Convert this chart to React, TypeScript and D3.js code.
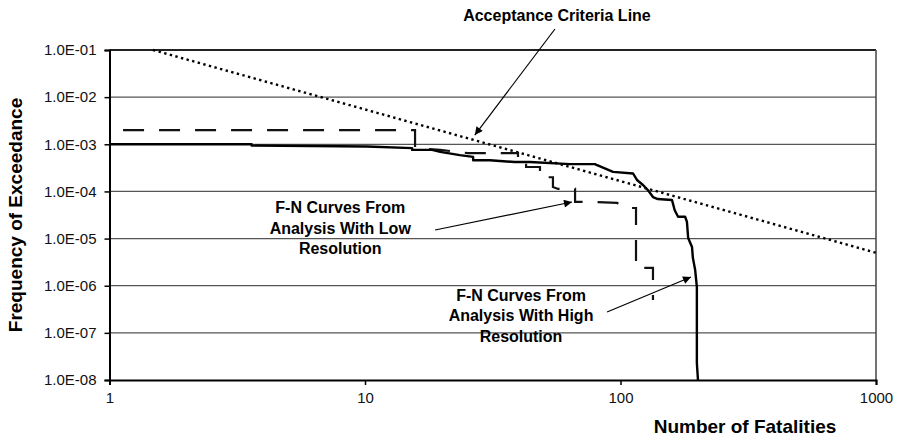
import React, { useEffect, useRef } from 'react';
import * as d3 from 'd3';

const W = 901, H = 436;
const X0 = 109.5, X1 = 876, Y0 = 380, Y1 = 50;
const FONT = '"Liberation Sans", Arial, Helvetica, sans-serif';

// tick values
const Y_TICKS = [1e-8, 1e-7, 1e-6, 1e-5, 1e-4, 1e-3, 1e-2, 1e-1];
const Y_LABELS = ['1.0E-08', '1.0E-07', '1.0E-06', '1.0E-05', '1.0E-04', '1.0E-03', '1.0E-02', '1.0E-01'];
const X_TICKS = [1, 10, 100, 1000];
const X_LABELS = ['1', '10', '100', '1000'];

// acceptance criteria line [N, F]
const CRITERIA: [number, number][] = [[1.48, 0.1], [1000, 5e-6]];

// F-N curve, high resolution (solid)
const HIGH_RES: [number, number][] = [
  [1, 1.0e-3], [3.6, 1.0e-3], [3.6, 9.4e-4], [10.2, 9.0e-4], [15.3, 8.3e-4], [15.3, 7.6e-4],
  [18.3, 7.6e-4], [19.7, 6.9e-4], [23.5, 5.9e-4], [26.5, 5.4e-4], [26.5, 4.6e-4], [30.8, 4.6e-4],
  [38.6, 4.2e-4], [44.2, 4.2e-4], [63.4, 3.8e-4], [79.5, 3.8e-4], [81, 3.6e-4], [93.5, 2.6e-4],
  [112, 2.4e-4], [116, 1.75e-4], [122.5, 1.37e-4], [128, 1.07e-4], [134, 7.6e-5], [140, 6.9e-5],
  [159, 6.6e-5], [163, 4.0e-5], [168, 2.9e-5], [179, 2.9e-5], [182, 2.25e-5], [184, 1.03e-5],
  [190.5, 6.6e-6], [192, 3.9e-6], [196, 2.15e-6], [199, 9.4e-7], [199, 2.3e-8], [201, 1e-8],
];

// F-N curve, low resolution (dashed)
const LOW_RES: [number, number][] = [
  [1.13, 2.0e-3], [15.7, 2.0e-3], [15.7, 8.3e-4], [19.7, 7.6e-4], [25.3, 6.5e-4], [39.7, 6.5e-4],
  [39.7, 4.2e-4], [42.7, 4.2e-4], [42.7, 3.3e-4], [48.4, 3.3e-4], [48.4, 2.0e-4], [54.4, 2.0e-4],
  [54.4, 1.24e-4], [57, 1.13e-4], [66.4, 1.13e-4], [66.4, 6.0e-5], [76, 6.0e-5], [97, 5.7e-5],
  [104, 4.45e-5], [115, 4.45e-5], [115, 2.4e-6], [134, 2.4e-6], [134, 5e-7],
];

// annotations: text lines, anchor [N, F] of first baseline, arrow tail/head
const ANNOTATIONS = [
  { lines: ['Acceptance Criteria Line'], at: [56.4, 0.41], from: [55.4, 0.279], to: [26.9, 1.57e-3] },
  { lines: ['F-N Curves From', 'Analysis With Low', 'Resolution'], at: [8, 3.48e-5], from: [18.8, 1.52e-5], to: [64.6, 5.96e-5] },
  { lines: ['F-N Curves From', 'Analysis With High', 'Resolution'], at: [40.8, 4.74e-7], from: [88.6, 2.77e-7], to: [188.8, 1.53e-6] },
];

export default function App() {
  const ref = useRef<SVGSVGElement>(null);

  useEffect(() => {
    document.body.style.margin = '0';
    const svg = d3.select(ref.current);
    svg.selectAll('*').remove();

    const x = d3.scaleLog().domain([1, 1000]).range([X0, X1]);
    const y = d3.scaleLog().domain([1e-8, 1e-1]).range([Y0, Y1]);

    svg.append('defs').append('marker')
      .attr('id', 'arrow').attr('viewBox', '0 0 10 10')
      .attr('refX', 10).attr('refY', 5)
      .attr('markerWidth', 12).attr('markerHeight', 8)
      .attr('markerUnits', 'userSpaceOnUse')
      .attr('orient', 'auto')
      .append('path').attr('d', 'M0,0 L10,5 L0,10 Z').attr('fill', '#000');

    // grid
    svg.append('g').selectAll('line')
      .data(Y_TICKS.slice(1, -1))
      .join('line')
      .attr('x1', X0).attr('x2', X1)
      .attr('y1', d => y(d)).attr('y2', d => y(d))
      .attr('stroke', '#555').attr('stroke-width', 1.3);

    // frame
    svg.append('line').attr('x1', X0).attr('x2', X1).attr('y1', Y1).attr('y2', Y1)
      .attr('stroke', '#222').attr('stroke-width', 2);
    svg.append('line').attr('x1', X1).attr('x2', X1).attr('y1', Y1).attr('y2', Y0)
      .attr('stroke', '#444').attr('stroke-width', 1.5);

    // y axis
    const yAxis = svg.append('g').attr('transform', `translate(${X0},0)`)
      .call(d3.axisLeft(y).tickValues(Y_TICKS).tickFormat((_, i) => Y_LABELS[i]).tickSizeOuter(0).tickSize(5).tickPadding(8));
    yAxis.select('.domain').attr('stroke', '#000').attr('stroke-width', 2);
    yAxis.selectAll('line').attr('stroke', '#000').attr('stroke-width', 1.5);
    yAxis.selectAll('text').attr('font-family', FONT).attr('font-size', 15).attr('fill', '#111');

    // x axis
    const xAxis = svg.append('g').attr('transform', `translate(0,${Y0})`)
      .call(d3.axisBottom(x).tickValues(X_TICKS).tickFormat((_, i) => X_LABELS[i]).tickSizeOuter(0).tickSize(5).tickPadding(7));
    xAxis.select('.domain').attr('stroke', '#000').attr('stroke-width', 2);
    xAxis.selectAll('line').attr('stroke', '#000').attr('stroke-width', 1.5);
    xAxis.selectAll('text').attr('font-family', FONT).attr('font-size', 15).attr('fill', '#111');

    const line = d3.line<[number, number]>().x(d => x(d[0])).y(d => y(d[1]));

    svg.append('path').attr('d', line(CRITERIA))
      .attr('fill', 'none').attr('stroke', '#000').attr('stroke-width', 2.4)
      .attr('stroke-dasharray', '2.4,3.4');

    svg.append('path').attr('d', line(LOW_RES))
      .attr('fill', 'none').attr('stroke', '#111').attr('stroke-width', 2.2)
      .attr('stroke-dasharray', '21,15');

    svg.append('path').attr('d', line(HIGH_RES))
      .attr('fill', 'none').attr('stroke', '#000').attr('stroke-width', 2.4)
      .attr('stroke-linejoin', 'round');

    // annotations
    ANNOTATIONS.forEach(a => {
      svg.append('line')
        .attr('x1', x(a.from[0])).attr('y1', y(a.from[1]))
        .attr('x2', x(a.to[0])).attr('y2', y(a.to[1]))
        .attr('stroke', '#000').attr('stroke-width', 1.2)
        .attr('marker-end', 'url(#arrow)');
      const t = svg.append('text')
        .attr('x', x(a.at[0])).attr('y', y(a.at[1]))
        .attr('text-anchor', 'middle').attr('font-family', FONT)
        .attr('font-size', 16).attr('font-weight', 'bold').attr('fill', '#000');
      a.lines.forEach((s, i) => {
        t.append('tspan').attr('x', x(a.at[0])).attr('dy', i === 0 ? 0 : 20.5).text(s);
      });
    });

    // axis titles
    svg.append('text')
      .attr('transform', `translate(22,215) rotate(-90)`)
      .attr('text-anchor', 'middle').attr('font-family', FONT)
      .attr('font-size', 19).attr('font-weight', 'bold').attr('fill', '#000')
      .text('Frequency of Exceedance');

    svg.append('text')
      .attr('x', 745).attr('y', 433)
      .attr('text-anchor', 'middle').attr('font-family', FONT)
      .attr('font-size', 19).attr('font-weight', 'bold').attr('fill', '#000')
      .text('Number of Fatalities');
  }, []);

  return <svg ref={ref} width={W} height={H} style={{ display: 'block', background: '#fff' }} />;
}
